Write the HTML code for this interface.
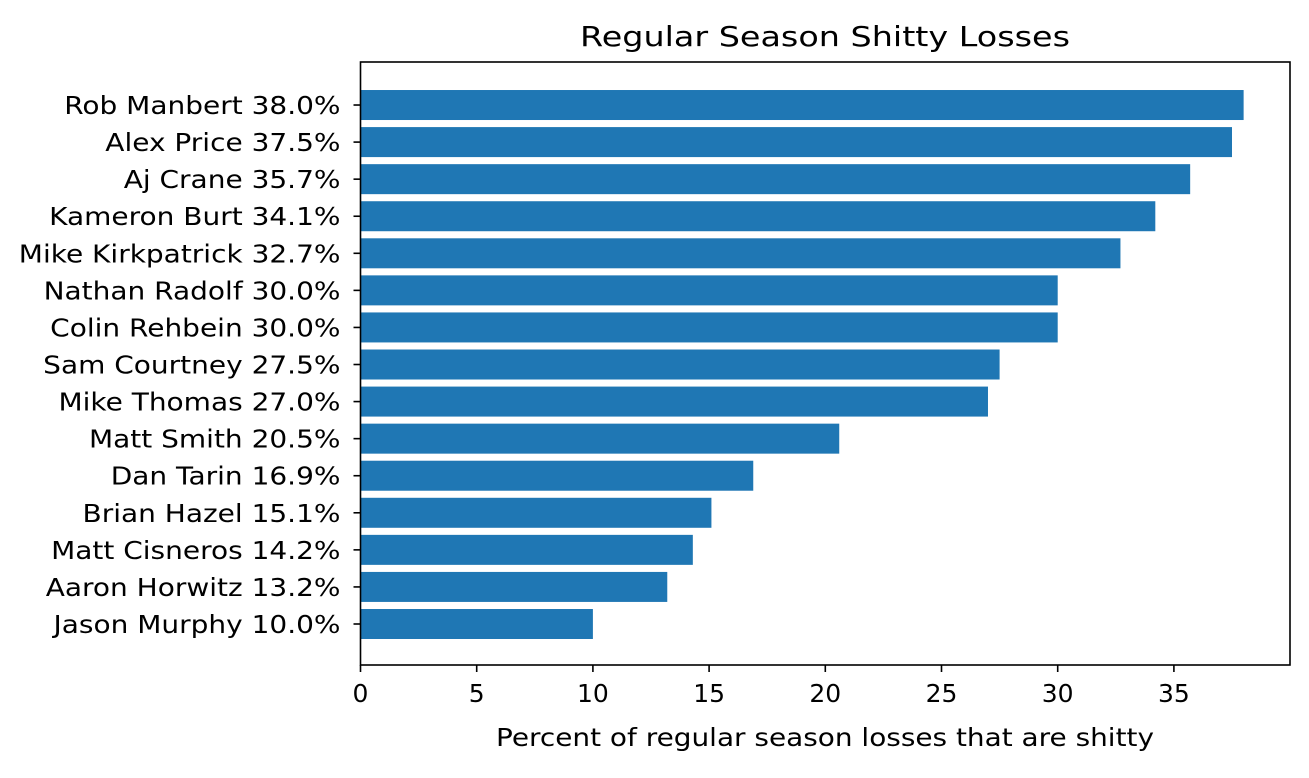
<!DOCTYPE html>
<html><head><meta charset="utf-8"><style>
body{margin:0;background:#fff;}
text{font-family:"DejaVu Sans","Liberation Sans",sans-serif;fill:#000;}
</style></head><body>
<svg id="chart" width="1309" height="773" xmlns="http://www.w3.org/2000/svg">
<text x="825" y="46" font-size="28" text-anchor="middle" textLength="490" lengthAdjust="spacingAndGlyphs">Regular Season Shitty Losses</text>
<g id="bars"></g>
<g id="yticks"></g>
<g id="xticks"></g>
<rect x="360.5" y="62" width="929.5" height="603" fill="none" stroke="#000" stroke-width="1.6"/>
<text x="825" y="746" font-size="25" text-anchor="middle" textLength="658" lengthAdjust="spacingAndGlyphs">Percent of regular season losses that are shitty</text>
</svg>
<script>
const names=["Jason Murphy","Aaron Horwitz","Matt Cisneros","Brian Hazel","Dan Tarin","Matt Smith","Mike Thomas","Sam Courtney","Colin Rehbein","Nathan Radolf","Mike Kirkpatrick","Kameron Burt","Aj Crane","Alex Price","Rob Manbert"];
const labels=["10.0%","13.2%","14.2%","15.1%","16.9%","20.5%","27.0%","27.5%","30.0%","30.0%","32.7%","34.1%","35.7%","37.5%","38.0%"];
const values=[10.0,13.2,14.3,15.1,16.9,20.6,27.0,27.5,30.0,30.0,32.7,34.2,35.7,37.5,38.0];
const xTicks=[0,5,10,15,20,25,30,35];
const NS="http://www.w3.org/2000/svg";
const x0=360.5,xs=23.24;
const X=v=>x0+v*xs;
const Y=i=>624-i*37.07;
const bh=30;
const bars=document.getElementById('bars'),yt=document.getElementById('yticks'),xt=document.getElementById('xticks');
function mk(t,a){const e=document.createElementNS(NS,t);for(const k in a)e.setAttribute(k,a[k]);return e;}
values.forEach((v,i)=>{
 const r=mk('rect',{x:X(0),y:Y(i)-bh/2,width:X(v)-X(0),height:bh,fill:'#1f77b4'});
 
 
 bars.appendChild(r);
 const l=mk('line',{x1:x0-7,x2:x0,y1:Y(i),y2:Y(i),stroke:'#000','stroke-width':1.6});
 
 
 yt.appendChild(l);
 const t=mk('text',{x:x0-20,y:Y(i)+9,'font-size':25,'text-anchor':'end'});
 t.textContent=names[i]+' '+labels[i];
 
 
 t.setAttribute('transform','translate('+(x0-20)+',0) scale(1.12,1) translate('+(-(x0-20))+',0)');
 yt.appendChild(t);
});
xTicks.forEach(v=>{
 const l=mk('line',{x1:X(v),x2:X(v),y1:665,y2:672,stroke:'#000','stroke-width':1.6});
 
 
 xt.appendChild(l);
 const t=mk('text',{x:X(v),y:702,'font-size':25,'text-anchor':'middle'});
 t.textContent=v;
 
 
 xt.appendChild(t);
});
</script>
</body></html>
